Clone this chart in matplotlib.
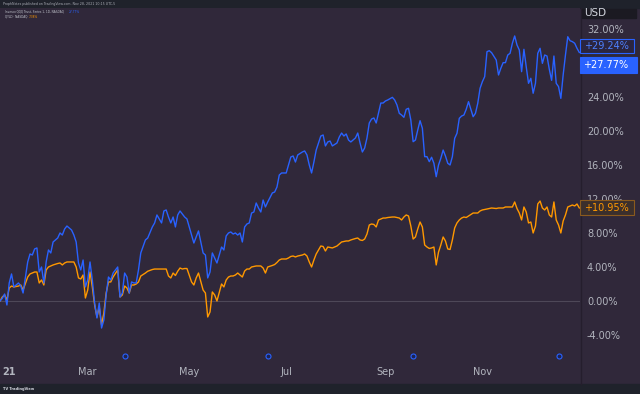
import matplotlib.pyplot as plt
from matplotlib.patches import Rectangle
from matplotlib.lines import Line2D

# trading session index (0 = first session of 2021) and % change since start
sessions = [0, 1, 2, 3, 4, 5, 6, 8, 9, 10, 12, 13, 14, 15, 16, 17, 18, 19, 20, 21,
            22, 23, 25, 26, 27, 28, 29, 31, 32, 33, 34, 35, 36, 37, 38, 39, 40, 41, 42, 43,
            44, 45, 46, 47, 48, 49, 51, 52, 53, 54, 55, 56, 57, 58, 59, 60, 61, 63, 64, 66,
            67, 68, 70, 71, 72, 73, 74, 75, 76, 77, 78, 79, 80, 81, 83, 84, 85, 86, 88, 89,
            90, 91, 92, 93, 94, 96, 97, 98, 99, 100, 101, 102, 103, 104, 105, 106, 107, 108, 109, 110,
            111, 112, 113, 114, 115, 116, 118, 119, 120, 121, 122, 124, 125, 126, 127, 128, 129, 131, 132, 133,
            134, 135, 136, 137, 139, 140, 141, 142, 143, 144, 146, 147, 148, 149, 150, 151, 152, 154, 155, 156,
            157, 158, 159, 160, 161, 162, 163, 164, 165, 166, 167, 168, 170, 171, 172, 173, 174, 175, 176, 177,
            178, 179, 180, 181, 182, 183, 184, 185, 186, 187, 188, 189, 190, 191, 192, 193, 194, 195, 196, 197,
            198, 199, 200, 201, 202, 203, 205, 206, 207, 208, 209, 210, 211, 212, 213, 215, 216, 217, 218, 219,
            220, 221, 222, 223, 224, 225, 226, 227, 228, 229, 230, 231, 232, 233, 234, 235, 236, 237, 238, 239,
            240, 241, 242, 243, 244, 245, 246, 247, 248, 249, 250, 251]

qqq = [0.0, 0.32, 0.82, -0.47, 2.12, 3.18, 1.65, 2.12, 1.76, 0.94, 4.59, 5.53, 5.41, 6.12, 6.24, 3.41, 4.00, 2.12, 4.59, 6.00,
       5.65, 6.94, 7.41, 8.00, 7.76, 8.47, 8.82, 8.35, 7.76, 6.94, 4.47, 3.65, 4.82, 1.65, 2.47, 4.59, 2.47, -0.24, -2.00, -0.24,
       -3.18, -2.24, 0.71, 2.82, 2.47, 3.29, 4.00, 0.47, 0.94, 3.29, 2.82, 0.94, 2.24, 2.12, 2.12, 3.65, 5.65, 7.18, 7.41, 8.71,
       9.18, 10.12, 9.18, 10.59, 10.71, 9.88, 9.18, 9.88, 8.71, 10.12, 10.59, 10.24, 9.88, 9.65, 7.76, 6.82, 7.53, 8.24, 5.65, 5.41,
       2.71, 3.41, 5.65, 5.06, 4.47, 6.35, 6.00, 7.65, 8.00, 8.12, 7.88, 8.00, 7.76, 8.00, 6.94, 8.71, 9.06, 9.18, 10.35, 10.47,
       11.53, 10.94, 10.47, 11.88, 11.06, 11.65, 12.71, 12.82, 13.41, 14.82, 15.06, 15.06, 16.00, 16.94, 17.06, 16.35, 17.18, 17.53, 17.65, 17.18,
       16.00, 15.06, 16.35, 17.76, 19.41, 19.53, 18.24, 18.71, 18.82, 18.24, 18.59, 19.29, 19.76, 19.41, 19.65, 18.94, 18.71, 19.18, 19.76, 18.59,
       17.53, 18.00, 19.18, 20.94, 21.41, 21.53, 20.94, 22.12, 23.29, 23.29, 23.53, 23.65, 23.96, 23.65, 23.06, 22.08, 21.88, 21.61, 22.55, 22.67,
       21.29, 18.74, 18.94, 20.12, 21.21, 20.32, 16.98, 16.98, 16.39, 16.91, 16.20, 14.62, 16.00, 16.79, 17.76, 17.06, 16.20, 16.00, 16.98, 19.14,
       19.73, 21.49, 21.76, 21.88, 22.55, 23.45, 21.68, 22.08, 23.26, 25.02, 25.80, 26.39, 29.33, 29.45, 29.21, 28.35, 26.59, 27.38, 28.04, 28.04,
       28.94, 29.14, 30.32, 31.18, 30.12, 29.53, 26.98, 29.61, 27.56, 25.61, 26.20, 24.44, 25.61, 29.14, 29.73, 27.96, 28.94, 28.82, 27.26, 25.96,
       28.82, 25.61, 25.22, 23.84, 26.59, 28.94, 31.09, 30.62, 30.51, 30.32, 29.73, 29.24]

qyld = [0.0, 0.47, 0.71, 0.12, 1.53, 1.76, 1.65, 1.76, 1.88, 1.29, 2.82, 3.18, 3.29, 3.41, 3.41, 2.12, 2.47, 1.88, 3.65, 4.00,
        4.12, 4.24, 4.41, 4.47, 4.24, 4.47, 4.59, 4.59, 4.59, 4.00, 2.71, 2.59, 3.06, 0.35, 1.29, 3.41, 1.65, -0.47, -1.88, -0.71,
        -2.82, -1.41, 0.94, 2.24, 2.24, 2.82, 3.65, 0.47, 0.71, 1.76, 1.53, 0.94, 1.88, 1.88, 2.00, 2.24, 2.94, 3.29, 3.50, 3.70,
        3.76, 3.76, 3.76, 3.76, 3.76, 2.94, 2.71, 3.29, 3.00, 3.50, 3.88, 3.76, 3.82, 3.82, 2.24, 1.88, 2.71, 3.29, 1.29, 0.94,
        -1.88, -1.29, 1.06, 0.71, 0.00, 2.00, 1.65, 2.47, 2.82, 2.94, 2.94, 3.06, 3.29, 3.06, 2.82, 3.53, 3.76, 3.76, 4.00, 4.06,
        4.12, 4.12, 4.12, 3.88, 3.29, 4.00, 4.18, 4.29, 4.53, 4.82, 4.94, 4.94, 5.06, 5.24, 5.29, 5.18, 5.29, 5.41, 5.53, 5.29,
        4.59, 4.00, 4.82, 5.53, 6.47, 6.41, 5.88, 6.35, 6.29, 6.24, 6.47, 6.71, 6.94, 7.00, 7.06, 7.06, 7.18, 7.35, 7.41, 7.18,
        7.12, 7.29, 7.88, 8.94, 9.06, 9.00, 8.71, 9.53, 9.65, 9.76, 9.76, 9.82, 9.88, 9.88, 9.82, 9.76, 9.53, 9.88, 10.12, 10.00,
        8.82, 7.29, 7.53, 8.47, 9.29, 8.71, 6.59, 6.35, 6.18, 6.24, 6.35, 4.24, 5.76, 6.59, 7.53, 7.06, 6.12, 6.06, 7.18, 8.59,
        9.18, 9.53, 9.76, 9.88, 9.82, 10.00, 10.35, 10.35, 10.35, 10.59, 10.71, 10.76, 10.82, 10.88, 10.94, 10.88, 10.94, 10.94, 10.94, 11.06,
        11.06, 11.06, 11.06, 11.65, 10.88, 10.35, 9.53, 11.06, 10.47, 9.18, 9.29, 8.00, 8.82, 11.41, 11.76, 10.94, 10.71, 11.06, 10.12, 9.88,
        11.65, 9.53, 8.94, 8.00, 9.41, 10.12, 11.06, 11.18, 11.29, 11.18, 11.41, 10.95]

month_ticks = [4, 38, 82, 124, 167, 209]
month_labels = ['21', 'Mar', 'May', 'Jul', 'Sep', 'Nov']
y_ticks = [-4, 0, 4, 8, 12, 16, 20, 24, 28, 32]
div_sessions = [54, 116, 179, 242]

qqq_last = 29.24
qqq_ext = 27.77
qyld_last = 10.95

BG = '#30283a'
DARK = '#1f222b'
BLUE = '#2962ff'
ORANGE = '#ff9800'
GREY = '#b2b5be'

W, H = 640.0, 394.0
fig = plt.figure(figsize=(6.4, 3.94), dpi=100, facecolor=BG)

# plot area: pixels x 0-580, y 8-357
ax = fig.add_axes([0, 37 / H, 580 / W, 349 / H])
ax.set_facecolor(BG)
ax.axhline(0, color='#4e4858', lw=0.8, zorder=1)
ax.plot(sessions, qyld, color=ORANGE, lw=1.0, zorder=3)
ax.plot(sessions, qqq, color=BLUE, lw=1.0, zorder=4)
ymin, ymax = -6.59, 34.47
ax.set_xlim(0, 251.3)
ax.set_ylim(ymin, ymax)
for sp in ax.spines.values():
    sp.set_visible(False)

ax.yaxis.tick_right()
ax.set_yticks(y_ticks)
ax.set_yticklabels(['%.2f%%' % v for v in y_ticks])
ax.tick_params(axis='y', length=0, pad=5, labelsize=7, labelcolor=GREY)
ax.set_xticks(month_ticks)
ax.set_xticklabels(month_labels)
ax.tick_params(axis='x', length=0, pad=7, labelsize=7, labelcolor=GREY)
ax.get_xticklabels()[0].set_fontweight('bold')

# dividend markers on the time axis
ax.scatter(div_sessions, [0.004] * len(div_sessions), transform=ax.get_xaxis_transform(),
           s=13, facecolor='#1d2452', edgecolor=BLUE, lw=0.8, clip_on=False, zorder=6)


def vy(v):
    return 37 / H + (v - ymin) / (ymax - ymin) * 349 / H


# separator between plot and price scale
fig.add_artist(Line2D([580.5 / W] * 2, [10 / H, 1 - 8 / H], color='#251e2d', lw=1))

# header / footer strips
fig.add_artist(Rectangle((0, 1 - 8 / H), 1, 8 / H, transform=fig.transFigure, color=DARK, zorder=0))
fig.add_artist(Rectangle((0, 0), 1, 10 / H, transform=fig.transFigure, color=DARK, zorder=0))
fig.text(3 / W, 1 - 4.5 / H, 'ProphNotes published on TradingView.com, Nov 28, 2021 10:15 UTC-5',
         fontsize=2.3, color='#a9acb5', va='center')
fig.text(3 / W, 5 / H, 'TV TradingView', fontsize=2.6, color='#d1d4dc', va='center', weight='bold')

# legend
fig.text(5 / W, 1 - 11.7 / H, 'Invesco QQQ Trust, Series 1, 1D, NASDAQ', fontsize=2.1,
         color='#c3c6ce', va='center')
fig.text(69 / W, 1 - 11.7 / H, '27.77%', fontsize=2.1, color=BLUE, va='center')
fig.text(5 / W, 1 - 16.7 / H, 'QYLD \u00b7 NASDAQ', fontsize=2.1, color='#c3c6ce', va='center')
fig.text(29 / W, 1 - 16.7 / H, '7.38%', fontsize=2.1, color=ORANGE, va='center')

# USD box
fig.add_artist(Rectangle((582 / W, 1 - 18 / H), 54 / W, 9 / H, transform=fig.transFigure,
                         color='#1b1a22', zorder=2))
fig.text(584 / W, 1 - 13.5 / H, 'USD', fontsize=7.5, color='#d1d4dc', va='center', zorder=3)


# last value labels on the price scale
def price_label(v, text, fc, ec, tc, width, height, shift=0.0):
    yc = vy(v) + shift / H
    fig.add_artist(Rectangle((580 / W, yc - height / 2 / H), width / W, height / H,
                             transform=fig.transFigure, facecolor=fc, edgecolor=ec,
                             lw=0.8, zorder=5))
    fig.text(606 / W, yc, text, fontsize=7, color=tc, ha='center', va='center', zorder=6)


price_label(qqq_last, '+%.2f%%' % qqq_last, '#2b2540', BLUE, '#4d80ff', 54, 14, shift=6.5)
price_label(qqq_ext, '+%.2f%%' % qqq_ext, BLUE, BLUE, 'white', 57, 16)
price_label(qyld_last, '+%.2f%%' % qyld_last, '#3b2f2c', '#8a5a1e', ORANGE, 54, 15)

fig.savefig('out.png', dpi=100, facecolor=BG)
